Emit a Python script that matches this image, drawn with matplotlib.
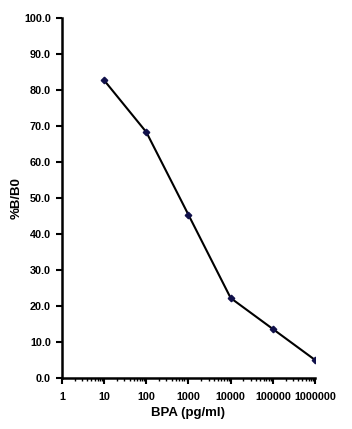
import matplotlib
matplotlib.use("Agg")
import matplotlib.pyplot as plt
from matplotlib.ticker import LogLocator, NullFormatter, FixedLocator

plt.rcParams['font.family'] = ['Liberation Sans', 'DejaVu Sans']

# BPA standard curve
bpa = [10, 100, 1000, 10000, 100000, 1000000]
pct_b_b0 = [82.7, 68.3, 45.3, 22.2, 13.6, 5.0]

xticks = [1, 10, 100, 1000, 10000, 100000, 1000000]
xtick_labels = ["1", "10", "100", "1000", "10000", "100000", "1000000"]
yticks = [0, 10, 20, 30, 40, 50, 60, 70, 80, 90, 100]

fig = plt.figure(figsize=(3.52, 4.29), dpi=100)
ax = fig.add_axes([0.176, 0.119, 0.719, 0.839])

ax.plot(bpa, pct_b_b0, color='black', lw=1.5, marker='D', markersize=3.3,
        markerfacecolor='#10104a', markeredgecolor='#10104a')

ax.set_xscale('log')
ax.set_xlim(1, 1000000)
ax.set_ylim(0, 100)
ax.xaxis.set_major_locator(FixedLocator(xticks))
ax.set_xticklabels(xtick_labels)
ax.xaxis.set_minor_locator(LogLocator(base=10, subs=range(2, 10)))
ax.xaxis.set_minor_formatter(NullFormatter())
ax.set_yticks(yticks)
ax.set_yticklabels(["%.1f" % v for v in yticks])

for s in ['top', 'right']:
    ax.spines[s].set_visible(False)
for s in ['left', 'bottom']:
    ax.spines[s].set_linewidth(1.8)

ax.tick_params(axis='both', which='major', direction='out', length=4, width=1.5,
               labelsize=7.8)
ax.tick_params(axis='x', which='major', pad=6)
ax.tick_params(axis='y', which='major', pad=4)
ax.tick_params(axis='x', which='minor', direction='out', length=2, width=1)
for lab in ax.get_xticklabels() + ax.get_yticklabels():
    lab.set_fontweight('bold')

ax.set_xlabel("BPA (pg/ml)", fontsize=9.5, fontweight='bold', labelpad=4)
ax.set_ylabel("%B/B0", fontsize=9.5, fontweight='bold', labelpad=1)

fig.savefig("out.png", dpi=100)
